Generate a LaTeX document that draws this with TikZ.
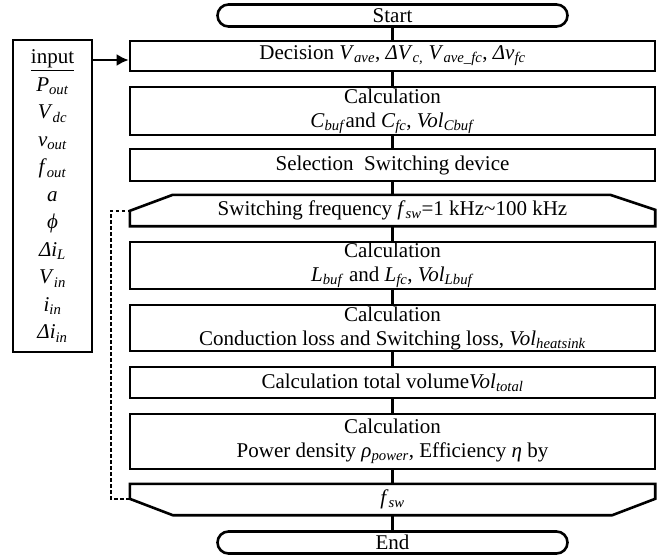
\documentclass[tikz,border=0pt]{standalone}
\usepackage{fontspec}
\setmainfont{Liberation Serif}
\usetikzlibrary{calc,arrows.meta}
\newcommand{\vsub}[2]{\textit{#1}\textsubscript{\textit{#2}}}

\tikzset{
  box/.style={draw, line width=2.6pt, minimum width=525pt, align=center, inner sep=0pt},
  term/.style={draw, line width=2.6pt, rounded corners=11pt, minimum width=350pt, minimum height=22pt, inner sep=0pt},
  hexbox/.style={minimum width=525pt, minimum height=31pt, inner sep=0pt},
  link/.style={line width=2.6pt},
  loopline/.style={line width=2.2pt, dash pattern=on 3.5pt off 2.5pt},
}

\begin{document}
\begin{tikzpicture}[x=1pt, y=-1pt, font=\fontsize{21}{24}\selectfont]
\useasboundingbox (0,0) rectangle (663,557);

\node[term] (start) at (392.5,15.5) {Start};
\node[box, minimum height=30pt] (dec) at (392.5,56) {Decision \vsub{V}{ave}, \textit{Δ}\vsub{V}{c,} \vsub{V}{ave\_fc}, \textit{Δ}\vsub{v}{fc}};
\node[box, minimum height=48pt] (cbuf) at (392.5,111) {Calculation\\ \vsub{C}{buf}and \vsub{C}{fc}, \vsub{Vol}{Cbuf}};
\node[box, minimum height=32pt] (sel) at (392.5,165) {Selection\ \ Switching device};
\node[hexbox] (swf) at (392.5,210.5) {Switching frequency \vsub{f}{sw}=1 kHz\textasciitilde100 kHz};
\node[box, minimum height=47pt] (lbuf) at (392.5,265.5) {Calculation\\ \vsub{L}{buf} and \vsub{L}{fc}, \vsub{Vol}{Lbuf}};
\node[box, minimum height=46pt] (cond) at (392.5,328) {Calculation\\ Conduction loss and Switching loss, \vsub{Vol}{heatsink}};
\node[box, minimum height=31pt] (tot) at (392.5,382.5) {Calculation total volume\vsub{Vol}{total}};
\node[box, minimum height=55pt] (pow) at (392.5,441.5) {Calculation\\ Power density \vsub{ρ}{power}, Efficiency \textit{η} by};
\node[hexbox] (fsw) at (392.5,499.5) {\vsub{f}{sw}};
\node[term] (end) at (392.5,542.5) {End};

% loop limits
\draw[link] (swf.south west) -- ($(swf.north west)+(0,16)$) -- ($(swf.north west)+(43,0)$)
  -- ($(swf.north east)+(-45,0)$) -- ($(swf.north east)+(0,15)$) -- (swf.south east) -- cycle;
\draw[link] (fsw.north west) -- ($(fsw.north west)+(0,15)$) -- ($(fsw.south west)+(43,0)$)
  -- ($(fsw.south east)+(-43,0)$) -- ($(fsw.north east)+(0,15)$) -- (fsw.north east) -- cycle;

\node[draw, line width=2.6pt, minimum width=79pt, minimum height=312pt, inner sep=0pt, align=center,
  font=\fontsize{21}{27.5}\selectfont] (input) at (52.5,196)
  {\underline{input}\\ \vsub{P}{out}\\ \vsub{V}{dc}\\ \vsub{v}{out}\\ \vsub{f}{out}\\ \textit{a}\\ \textit{ϕ}\\
   \textit{Δ}\vsub{i}{L}\\ \vsub{V}{in}\\ \vsub{i}{in}\\ \textit{Δ}\vsub{i}{in}};

\foreach \a/\b in {start/dec, dec/cbuf, cbuf/sel, sel/swf, swf/lbuf, lbuf/cond, cond/tot, tot/pow, pow/fsw, fsw/end}
  \draw[link] (\a.south) -- (\b.north);

\draw[link, -{Latex[length=12pt,width=12pt]}] ($(input.east |- dec.west)+(0,4)$) -- ($(dec.west)+(0,4)$);

\coordinate (fswin) at ($(fsw.north west)+(0,15)$);
\coordinate (swfin) at ($(swf.north west)+(0,16)$);
\draw[loopline] (fswin) -- ++(-19,0) |- (swfin);

\end{tikzpicture}
\end{document}
